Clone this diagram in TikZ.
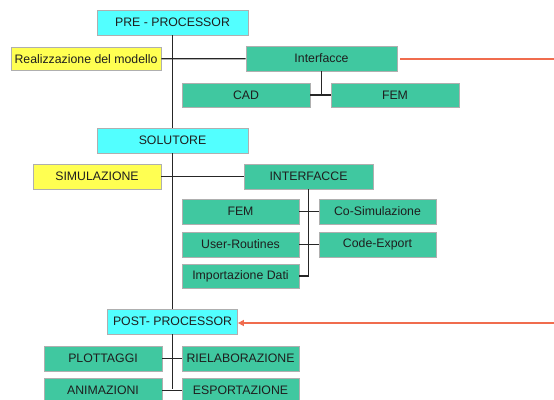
\documentclass[tikz,border=0pt]{standalone}
\usepackage{fontspec}
\setmainfont{Liberation Sans}
\usepackage{tikz}
\usetikzlibrary{arrows.meta}
\definecolor{ciano}{RGB}{82,255,255}
\definecolor{giallo}{RGB}{255,255,82}
\definecolor{verde}{RGB}{64,200,160}
\definecolor{arancio}{RGB}{240,108,78}
\definecolor{bordo}{RGB}{175,175,175}
\definecolor{testo}{RGB}{30,30,30}

\begin{document}
\begin{tikzpicture}[x=1pt, y=-1pt,
  box/.style={shape=rectangle, draw=bordo, line width=0.8pt, inner sep=0pt,
    text=testo, font=\fontsize{12.3}{13}\selectfont, minimum height=25pt},
  fase/.style={box, fill=ciano, minimum width=151pt},
  voce/.style={box, fill=giallo},
  blocco/.style={box, fill=verde},
  linea/.style={line width=1.2pt, black!85},
  freccia/.style={line width=2pt, arancio}]
\useasboundingbox (0,0) rectangle (554,399);

\node[fase](pre) at (172.5,22.5) {PRE - PROCESSOR};
\node[voce, minimum width=150pt, minimum height=23pt](real) at (86,59) {Realizzazione del modello};
\node[blocco, minimum width=151pt](interf) at (321.5,58.5) {Interfacce};
\node[blocco, minimum width=128pt, minimum height=24pt](cad) at (246,95) {CAD};
\node[blocco, minimum width=128pt, minimum height=24pt](fem) at (395,95) {FEM};

\node[fase](sol) at (172.5,140.5) {SOLUTORE};
\node[voce, minimum width=128pt](sim) at (97,176.5) {SIMULAZIONE};
\node[blocco, minimum width=129pt](interfsim) at (308.5,176.5) {INTERFACCE};
\node[blocco, minimum width=117pt](femsim) at (240.5,211.5) {FEM};
\node[blocco, minimum width=117pt](cosim) at (377.5,211.5) {Co-Simulazione};
\node[blocco, minimum width=117pt](user) at (240.5,244.5) {User-Routines};
\node[blocco, minimum width=117pt](code) at (377.5,244.5) {Code-Export};
\node[blocco, minimum width=117pt, minimum height=24pt](imp) at (240.5,276) {Importazione Dati};

\node[fase, minimum width=130pt](post) at (172.5,321.5) {POST- PROCESSOR};
\node[blocco, minimum width=118pt](plot) at (103,358.5) {PLOTTAGGI};
\node[blocco, minimum width=117pt](riel) at (240.5,358.5) {RIELABORAZIONE};
\node[blocco, minimum width=118pt](anim) at (103,390.5) {ANIMAZIONI};
\node[blocco, minimum width=117pt](esp) at (240.5,390.5) {ESPORTAZIONE};

\coordinate (cadfem) at (321.5,95);
\coordinate (impfine) at (308.5,276);
\coordinate (postfine) at (172.5,389);
\coordinate (destra1) at (554,58.5);
\coordinate (destra2) at (554,323);

% asse principale
\path[linea] (pre) edge (sol);
\path[linea] (sol) edge (post);
\path[linea] (post) edge (postfine);

% pre-processor
\path[linea] (real) edge (interf);
\path[linea] (interf) edge (cadfem);
\path[linea] (cad) edge (fem);

% solutore
\path[linea] (sim) edge (interfsim);
\path[linea] (interfsim) edge (impfine);
\path[linea] (imp) edge (impfine);
\path[linea] (femsim) edge (cosim);
\path[linea] (user) edge (code);

% post-processor
\path[linea] (plot) edge (riel);
\path[linea] (anim) edge (esp);

% collegamento arancio
\path[freccia, shorten <=3pt] (interf) edge (destra1);
\path[freccia, -{Triangle[length=6pt, width=6pt]}] (destra2) edge (post.east |- destra2);
\end{tikzpicture}
\end{document}
